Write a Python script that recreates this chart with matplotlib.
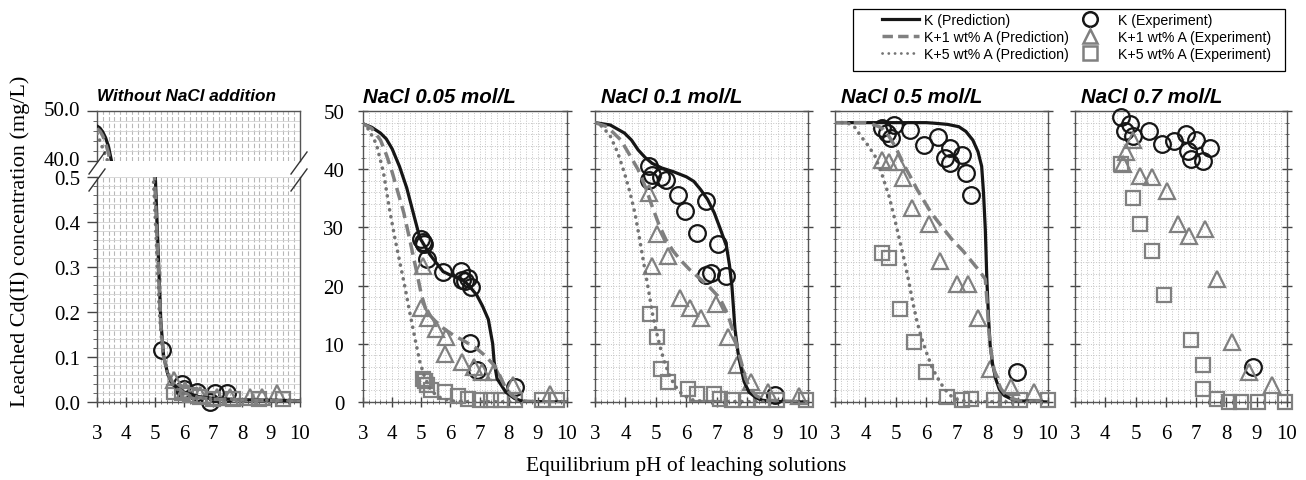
import matplotlib
matplotlib.use("Agg")
import matplotlib.pyplot as plt
import matplotlib.transforms as mtransforms
from matplotlib.lines import Line2D
from matplotlib.patches import Rectangle
from matplotlib.ticker import MultipleLocator, FormatStrFormatter

# ---------------- data ----------------
# Without NaCl addition (broken axis: upper 40-50, lower 0-0.5)
up_k_ph = [3.0, 3.1, 3.2, 3.3, 3.4, 3.5, 3.55]
up_k_cd = [47.0, 46.6, 45.8, 44.6, 42.8, 40.0, 38.0]
up_a1_ph = [3.0, 3.1, 3.2, 3.3, 3.4, 3.47]
up_a1_cd = [46.5, 46.0, 45.0, 43.5, 41.5, 39.0]
up_a5_ph = [3.0, 3.1, 3.2, 3.3, 3.4]
up_a5_cd = [45.5, 44.0, 42.5, 41.0, 39.5]

lo_k_ph = [5.0, 5.1, 5.2, 5.3, 5.45, 5.6, 5.8, 6.0, 6.5, 7.0, 8.0, 10.0]
lo_k_cd = [0.52, 0.35, 0.18, 0.10, 0.06, 0.04, 0.03, 0.022, 0.012, 0.008, 0.005, 0.003]
lo_a1_ph = [4.97, 5.1, 5.2, 5.3, 5.5, 5.7, 6.0, 6.5, 7.0, 10.0]
lo_a1_cd = [0.52, 0.32, 0.17, 0.10, 0.055, 0.035, 0.02, 0.01, 0.006, 0.002]
lo_a5_ph = [4.93, 5.05, 5.15, 5.25, 5.4, 5.6, 5.9, 6.5, 10.0]
lo_a5_cd = [0.52, 0.35, 0.20, 0.12, 0.07, 0.04, 0.02, 0.008, 0.002]

lo_k_exp_ph = [5.24, 5.93, 6.0, 6.44, 6.9, 7.07, 7.48]
lo_k_exp_cd = [0.115, 0.041, 0.03, 0.022, 0.0, 0.019, 0.019]
lo_a1_exp_ph = [5.64, 6.04, 6.56, 7.13, 7.6, 8.28, 8.7, 9.2]
lo_a1_exp_cd = [0.048, 0.026, 0.015, 0.011, 0.011, 0.011, 0.011, 0.019]
lo_a5_exp_ph = [5.64, 5.93, 6.21, 6.56, 7.0, 7.7, 8.6, 9.43]
lo_a5_exp_cd = [0.022, 0.019, 0.015, 0.011, 0.007, 0.007, 0.007, 0.007]

# NaCl 0.05 mol/L
n005_k_ph = [3.0, 3.3, 3.6, 3.8, 4.0, 4.25, 4.5, 4.75, 4.95, 5.3, 5.75, 6.0, 6.33, 6.6, 6.9,
             7.1, 7.3, 7.45, 7.5, 7.6, 7.9, 8.2, 8.5, 10.0]
n005_k_cd = [47.8, 47.2, 46.2, 45.2, 43.5, 40.5, 36.8, 32.0, 28.2, 25.3, 22.4, 21.8, 21.3, 20.2, 18.4,
             16.5, 14.2, 10.0, 6.9, 4.0, 1.7, 0.6, 0.1, 0.0]
n005_a1_ph = [3.0, 3.3, 3.6, 3.8, 4.0, 4.2, 4.4, 4.6, 4.84, 5.0, 5.18, 5.5, 5.8, 6.1, 6.5, 6.9,
              7.2, 7.5, 7.7, 7.9, 8.1, 8.3, 8.6, 10.0]
n005_a1_cd = [47.8, 47.0, 45.0, 42.5, 39.5, 36.0, 32.5, 28.0, 22.4, 18.5, 15.5, 13.8, 12.5, 11.5, 10.4, 9.2,
              7.9, 6.3, 4.5, 2.3, 1.2, 0.5, 0.1, 0.0]
n005_a5_ph = [3.0, 3.2, 3.46, 3.7, 3.92, 4.1, 4.26, 4.45, 4.6, 4.8, 4.95, 5.1, 5.3, 5.5, 5.75, 6.0, 6.5, 10.0]
n005_a5_cd = [47.8, 46.8, 44.3, 39.5, 32.8, 28.0, 24.1, 19.5, 15.5, 10.5, 6.9, 4.5, 2.3, 1.2, 0.5, 0.2, 0.05, 0.0]
n005_k_exp_ph = [5.0, 5.05, 5.1, 5.2, 5.75, 6.35, 6.4, 6.5, 6.6, 6.7, 6.67, 6.9, 8.22]
n005_k_exp_cd = [28.0, 27.5, 27.2, 24.6, 22.3, 22.5, 21.0, 20.8, 21.3, 19.7, 10.2, 5.5, 2.5]
n005_a1_exp_ph = [5.07, 5.0, 5.24, 5.52, 5.85, 5.8, 6.38, 6.8, 7.1, 7.5, 8.16, 9.43]
n005_a1_exp_cd = [23.3, 16.1, 14.4, 12.6, 11.2, 8.3, 6.9, 6.0, 5.2, 5.2, 3.0, 1.4]
n005_a5_exp_ph = [5.07, 5.12, 5.18, 5.35, 5.8, 6.27, 6.6, 7.0, 7.4, 7.75, 8.2, 9.14, 9.66]
n005_a5_exp_cd = [4.0, 3.6, 2.9, 2.0, 1.7, 1.1, 0.6, 0.3, 0.3, 0.3, 0.3, 0.3, 0.3]

# NaCl 0.1 mol/L
n01_k_ph = [3.0, 3.5, 3.97, 4.2, 4.42, 4.65, 4.88, 5.2, 5.56, 6.0, 6.25, 6.47, 6.7, 6.92, 7.1, 7.32,
            7.42, 7.5, 7.6, 7.7, 7.78, 7.9, 8.06, 8.3, 8.5, 8.8, 10.0]
n01_k_cd = [48.0, 47.6, 46.2, 45.0, 43.3, 42.0, 41.0, 40.2, 39.6, 38.7, 37.9, 36.5, 34.8, 32.5, 30.0, 26.8,
            23.5, 19.9, 12.5, 8.5, 6.3, 3.5, 1.7, 0.7, 0.3, 0.1, 0.0]
n01_a1_ph = [3.0, 3.4, 3.85, 4.1, 4.42, 4.65, 4.88, 5.1, 5.33, 5.56, 5.79, 6.1, 6.47, 6.75, 7.04, 7.2,
             7.38, 7.55, 7.72, 7.85, 7.95, 8.1, 8.29, 8.6, 10.0]
n01_a1_cd = [48.0, 47.3, 45.0, 42.8, 39.9, 37.0, 33.6, 30.5, 27.9, 26.0, 24.5, 22.8, 21.1, 19.8, 18.2, 16.8,
             14.8, 12.0, 8.5, 6.0, 4.0, 2.3, 1.1, 0.3, 0.0]
n01_a5_ph = [3.0, 3.25, 3.51, 3.75, 3.97, 4.15, 4.31, 4.45, 4.6, 4.75, 4.88, 5.02, 5.16, 5.3, 5.45,
             5.6, 5.79, 6.0, 6.24, 6.6, 10.0]
n01_a5_cd = [48.0, 47.3, 45.6, 42.8, 39.3, 36.0, 32.5, 28.5, 23.9, 19.5, 15.4, 12.0, 9.1, 6.6, 4.6,
             3.0, 1.7, 0.9, 0.3, 0.1, 0.0]
n01_k_exp_ph = [4.76, 4.88, 4.76, 5.16, 5.33, 5.73, 6.64, 5.96, 6.36, 7.04, 6.64, 6.81, 7.32, 8.9]
n01_k_exp_cd = [40.5, 39.0, 38.2, 38.7, 38.2, 35.6, 34.5, 32.8, 29.1, 27.1, 21.9, 22.2, 21.7, 1.2]
n01_a1_exp_ph = [4.76, 5.05, 4.88, 5.39, 5.79, 6.13, 6.47, 6.98, 7.38, 7.66, 8.12, 8.69, 9.71]
n01_a1_exp_cd = [35.9, 28.8, 23.4, 25.1, 17.9, 16.2, 14.5, 16.8, 11.1, 6.3, 3.4, 1.7, 1.1]
n01_a5_exp_ph = [4.82, 5.05, 5.16, 5.39, 6.07, 6.36, 6.92, 7.1, 7.5, 8.0, 8.5, 8.97, 9.94]
n01_a5_exp_cd = [15.1, 11.1, 5.7, 3.4, 2.3, 1.4, 1.4, 0.6, 0.3, 0.3, 0.3, 0.3, 0.3]

# NaCl 0.5 mol/L
n05_k_ph = [3.0, 4.0, 5.0, 6.0, 6.27, 6.7, 7.07, 7.3, 7.53, 7.7, 7.82, 7.88, 7.94, 7.99, 8.05, 8.1,
            8.18, 8.28, 8.4, 8.57, 8.8, 9.03, 10.0]
n05_k_cd = [48.0, 48.0, 48.0, 48.0, 47.9, 47.7, 47.3, 46.5, 45.0, 43.0, 40.5, 36.0, 29.6, 21.1, 14.0, 9.7,
            6.5, 4.0, 2.2, 1.1, 0.5, 0.2, 0.0]
n05_a1_ph = [3.0, 4.0, 4.2, 4.5, 4.78, 5.0, 5.24, 5.47, 5.7, 5.93, 6.16, 6.5, 6.85, 7.2, 7.53, 7.75,
             7.94, 8.0, 8.05, 8.12, 8.22, 8.33, 8.45, 8.6, 8.8, 9.1, 10.0]
n05_a1_cd = [48.0, 48.0, 47.8, 47.2, 45.6, 43.7, 41.0, 38.8, 36.5, 34.5, 32.5, 30.2, 27.9, 26.0, 23.9, 22.5,
             21.1, 17.0, 12.5, 9.0, 5.7, 3.8, 2.3, 1.3, 0.6, 0.2, 0.0]
n05_a5_ph = [3.0, 3.4, 3.65, 3.86, 4.1, 4.32, 4.55, 4.78, 4.95, 5.12, 5.27, 5.41, 5.55, 5.7, 5.87,
             6.04, 6.2, 6.39, 6.55, 6.73, 6.9, 7.08, 7.5, 10.0]
n05_a5_cd = [48.0, 48.0, 47.2, 45.6, 44.0, 42.2, 39.0, 35.3, 31.7, 27.9, 24.5, 21.1, 17.3, 13.7, 10.6,
             8.0, 5.8, 4.0, 2.6, 1.4, 0.7, 0.3, 0.05, 0.0]
n05_k_exp_ph = [4.55, 4.95, 4.72, 4.84, 5.47, 6.39, 5.93, 6.79, 7.19, 6.62, 6.79, 7.3, 7.48, 8.97]
n05_k_exp_cd = [47.0, 47.6, 46.2, 45.3, 46.7, 45.6, 44.2, 43.6, 42.5, 41.9, 41.0, 39.3, 35.6, 5.1]
n05_a1_exp_ph = [4.55, 4.78, 5.07, 5.24, 5.53, 6.1, 6.44, 7.02, 7.36, 7.71, 8.11, 8.8, 9.54]
n05_a1_exp_cd = [41.6, 41.3, 41.3, 38.5, 33.3, 30.5, 24.2, 20.2, 20.2, 14.5, 5.7, 2.6, 1.7]
n05_a5_exp_ph = [4.55, 4.78, 5.12, 5.58, 5.99, 6.67, 7.19, 7.48, 8.22, 8.63, 9.08, 10.0]
n05_a5_exp_cd = [25.6, 24.8, 16.0, 10.3, 5.1, 0.9, 0.3, 0.6, 0.3, 0.3, 0.3, 0.3]

# NaCl 0.7 mol/L (experiments only)
n07_k_exp_ph = [4.52, 4.8, 4.64, 4.92, 5.43, 5.88, 6.27, 6.67, 7.01, 6.72, 6.84, 7.23, 7.46, 8.87]
n07_k_exp_cd = [48.9, 47.7, 46.6, 45.7, 46.6, 44.3, 44.9, 46.0, 45.1, 43.1, 41.7, 41.4, 43.7, 6.0]
n07_a1_exp_ph = [4.92, 4.69, 4.58, 5.14, 5.54, 6.05, 6.39, 6.78, 7.29, 7.68, 8.19, 8.76, 9.49]
n07_a1_exp_cd = [45.1, 42.9, 40.9, 38.9, 38.6, 36.3, 30.6, 28.6, 29.7, 21.1, 10.3, 5.1, 2.9]
n07_a5_exp_ph = [4.52, 4.92, 5.14, 5.54, 5.93, 6.84, 7.23, 7.23, 7.68, 8.08, 8.47, 9.04, 9.94]
n07_a5_exp_cd = [40.9, 35.1, 30.6, 26.0, 18.3, 10.6, 6.3, 2.3, 0.6, 0.0, 0.0, 0.0, 0.0]

titles = ["NaCl 0.05 mol/L", "NaCl 0.1 mol/L", "NaCl 0.5 mol/L", "NaCl 0.7 mol/L"]
line_labels = ["K (Prediction)", "K+1 wt% A (Prediction)", "K+5 wt% A (Prediction)"]
marker_labels = ["K (Experiment)", "K+1 wt% A (Experiment)", "K+5 wt% A (Experiment)"]

# ---------------- styles ----------------
BLACK = "#161616"
GRAY = "#808080"
DOTC = "#747474"
SERIF = "Liberation Serif"
SANS = "Liberation Sans"

line_k = dict(color=BLACK, lw=2.3, solid_capstyle="round", zorder=4)
line_a1 = dict(color=GRAY, lw=2.5, dashes=(3.6, 1.8), zorder=4)
line_a5 = dict(color=DOTC, lw=2.6, linestyle=(0, (0.05, 1.9)), dash_capstyle="round", zorder=4)
mk_k = dict(ls="none", marker="o", ms=12, mfc="none", mec=BLACK, mew=1.6, zorder=3, clip_on=False)
mk_a1 = dict(ls="none", marker="^", ms=12, mfc="none", mec=GRAY, mew=1.6, zorder=3, clip_on=False)
mk_a5 = dict(ls="none", marker="s", ms=10.5, mfc="none", mec=GRAY, mew=1.6, zorder=3, clip_on=False)

W, H = 1306, 481
fig = plt.figure(figsize=(W / 100, H / 100), dpi=100)


def box(l, r, t, b):
    return [l / W, 1 - b / H, (r - l) / W, (b - t) / H]


def style_axis(ax, ymajor, yminor, grid_ls=":"):
    ax.set_xlim(3, 10)
    ax.xaxis.set_major_locator(MultipleLocator(1))
    ax.xaxis.set_minor_locator(MultipleLocator(0.2))
    ax.yaxis.set_major_locator(MultipleLocator(ymajor))
    ax.yaxis.set_minor_locator(MultipleLocator(yminor))
    ax.grid(which="both", axis="both", color="#c4c4c4", lw=0.7, ls=grid_ls)
    ax.set_axisbelow(True)
    for s in ax.spines.values():
        s.set_color("#555555")
        s.set_linewidth(1.0)
    ax.tick_params(which="major", direction="inout", length=7, width=1.0, color="#444444",
                   labelsize=15, pad=10)
    ax.tick_params(which="minor", direction="inout", length=3, width=0.7, color="#666666")
    ax.tick_params(axis="x", which="major", pad=12)
    for lab in ax.get_xticklabels() + ax.get_yticklabels():
        lab.set_fontfamily(SERIF)


# ---------------- panel 1: broken axis ----------------
ax_up = fig.add_axes(box(97, 300, 112, 162))
ax_lo = fig.add_axes(box(97, 300, 178, 403))

ax_up.plot(up_k_ph, up_k_cd, **line_k)
ax_up.plot(up_a1_ph, up_a1_cd, **line_a1)
ax_up.plot(up_a5_ph, up_a5_cd, **line_a5)
ax_up.set_ylim(40, 50)

ax_lo.plot(lo_k_ph, lo_k_cd, **line_k)
ax_lo.plot(lo_a1_ph, lo_a1_cd, **line_a1)
ax_lo.plot(lo_a5_ph, lo_a5_cd, **line_a5)
ax_lo.plot(lo_k_exp_ph, lo_k_exp_cd, **mk_k)
ax_lo.plot(lo_a1_exp_ph, lo_a1_exp_cd, **mk_a1)
ax_lo.plot(lo_a5_exp_ph, lo_a5_exp_cd, **mk_a5)
ax_lo.set_ylim(0, 0.5)

for ax, maj, mnr in [(ax_up, 10, 2), (ax_lo, 0.1, 0.02)]:
    style_axis(ax, maj, mnr)
    ax.grid(False)
    ax.grid(which="both", axis="x", color="#b8b8b8", lw=0.8, ls=(0, (4, 2)))
    ax.grid(which="both", axis="y", color="#d2d2d2", lw=0.6, ls="-")
    ax.yaxis.set_major_formatter(FormatStrFormatter("%.1f"))
    ax.tick_params(which="both", axis="y", direction="out")
    ax.tick_params(axis="y", which="major", pad=5)
    for lab in ax.get_yticklabels():
        lab.set_fontfamily(SERIF)

# lift the upper tick labels a touch so "40.0" sits just above "0.5"
lift = mtransforms.ScaledTranslation(0, 2.5 / 72, fig.dpi_scale_trans)
for lab in ax_up.get_yticklabels():
    lab.set_transform(lab.get_transform() + lift)

ax_up.spines["bottom"].set_visible(False)
ax_up.tick_params(axis="x", which="both", bottom=False, labelbottom=False)
ax_lo.spines["top"].set_visible(False)
ax_lo.tick_params(axis="x", which="major", pad=12)
for lab in ax_lo.get_xticklabels():
    lab.set_fontfamily(SERIF)
ax_up.set_title("Without NaCl addition", loc="left", fontsize=12.3, fontweight="bold",
                fontstyle="italic", family=SANS, pad=8)

# break marks
for (x0, y0) in [(97, 164), (97, 181), (299, 164), (299, 181)]:
    fig.add_artist(Line2D([(x0 - 8) / W, (x0 + 8) / W], [1 - (y0 + 11) / H, 1 - (y0 - 11) / H],
                          color="#333333", lw=1.0, transform=fig.transFigure))

# ---------------- panels 2-5 ----------------
lefts = [363, 595, 835, 1075]
rights = [567, 808, 1048, 1287]
lines_data = [
    (n005_k_ph, n005_k_cd, n005_a1_ph, n005_a1_cd, n005_a5_ph, n005_a5_cd),
    (n01_k_ph, n01_k_cd, n01_a1_ph, n01_a1_cd, n01_a5_ph, n01_a5_cd),
    (n05_k_ph, n05_k_cd, n05_a1_ph, n05_a1_cd, n05_a5_ph, n05_a5_cd),
    None,
]
exp_data = [
    (n005_k_exp_ph, n005_k_exp_cd, n005_a1_exp_ph, n005_a1_exp_cd, n005_a5_exp_ph, n005_a5_exp_cd),
    (n01_k_exp_ph, n01_k_exp_cd, n01_a1_exp_ph, n01_a1_exp_cd, n01_a5_exp_ph, n01_a5_exp_cd),
    (n05_k_exp_ph, n05_k_exp_cd, n05_a1_exp_ph, n05_a1_exp_cd, n05_a5_exp_ph, n05_a5_exp_cd),
    (n07_k_exp_ph, n07_k_exp_cd, n07_a1_exp_ph, n07_a1_exp_cd, n07_a5_exp_ph, n07_a5_exp_cd),
]

for i in range(4):
    ax = fig.add_axes(box(lefts[i], rights[i], 112, 403))
    if lines_data[i] is not None:
        kx, ky, ax1, ay1, ax5, ay5 = lines_data[i]
        ax.plot(kx, ky, **line_k)
        ax.plot(ax1, ay1, **line_a1)
        ax.plot(ax5, ay5, **line_a5)
    ex = exp_data[i]
    ax.plot(ex[0], ex[1], **mk_k)
    ax.plot(ex[2], ex[3], **mk_a1)
    ax.plot(ex[4], ex[5], **mk_a5)
    ax.set_ylim(0, 50)
    style_axis(ax, 10, 2)
    ax.tick_params(which="both", axis="y", left=True, right=True)
    if i > 0:
        ax.tick_params(axis="y", labelleft=False)
    ax.text(0.0 if i == 0 else 0.03, 1.018, titles[i], transform=ax.transAxes, ha="left", va="bottom",
            fontsize=14.8, fontweight="bold", fontstyle="italic", family=SANS)

# ---------------- labels ----------------
fig.text(20 / W, 1 - 241 / H, "Leached Cd(II) concentration (mg/L)", rotation=90, ha="center",
         va="center", fontsize=16, family=SERIF)
fig.text(686 / W, 1 - 466 / H, "Equilibrium pH of leaching solutions", ha="center", va="center",
         fontsize=15.5, family=SERIF)

# ---------------- legend ----------------
line_handles = [
    Line2D([], [], color=BLACK, lw=2.3),
    Line2D([], [], color=GRAY, lw=2.5, dashes=(3.0, 1.5)),
    Line2D([], [], color=DOTC, lw=2.0, linestyle=(0, (0.05, 2.2)), dash_capstyle="round"),
]
marker_handles = [
    Line2D([], [], ls="none", marker="o", ms=10.5, mfc="none", mec=BLACK, mew=1.8),
    Line2D([], [], ls="none", marker="^", ms=10.5, mfc="none", mec=GRAY, mew=1.8),
    Line2D([], [], ls="none", marker="s", ms=9.5, mfc="none", mec=GRAY, mew=1.8),
]
leg_font = dict(family=SANS, size=10.2)
leg1 = fig.legend(line_handles, line_labels, loc="upper left", bbox_to_anchor=(882 / W, 1 - 13.5 / H),
                  frameon=False, prop=leg_font, handlelength=2.6, labelspacing=0.22,
                  handletextpad=0.4, borderpad=0, borderaxespad=0)
leg2 = fig.legend(marker_handles, marker_labels, loc="upper left", bbox_to_anchor=(1080 / W, 1 - 13.5 / H),
                  frameon=False, prop=leg_font, handlelength=1.4, labelspacing=0.22,
                  handletextpad=1.3, borderpad=0, borderaxespad=0)
fig.add_artist(Rectangle((853 / W, 1 - 72 / H), (1285 - 853) / W, 62 / H, transform=fig.transFigure,
                         fill=False, edgecolor="black", lw=0.9))

fig.savefig("out.png", dpi=100)
